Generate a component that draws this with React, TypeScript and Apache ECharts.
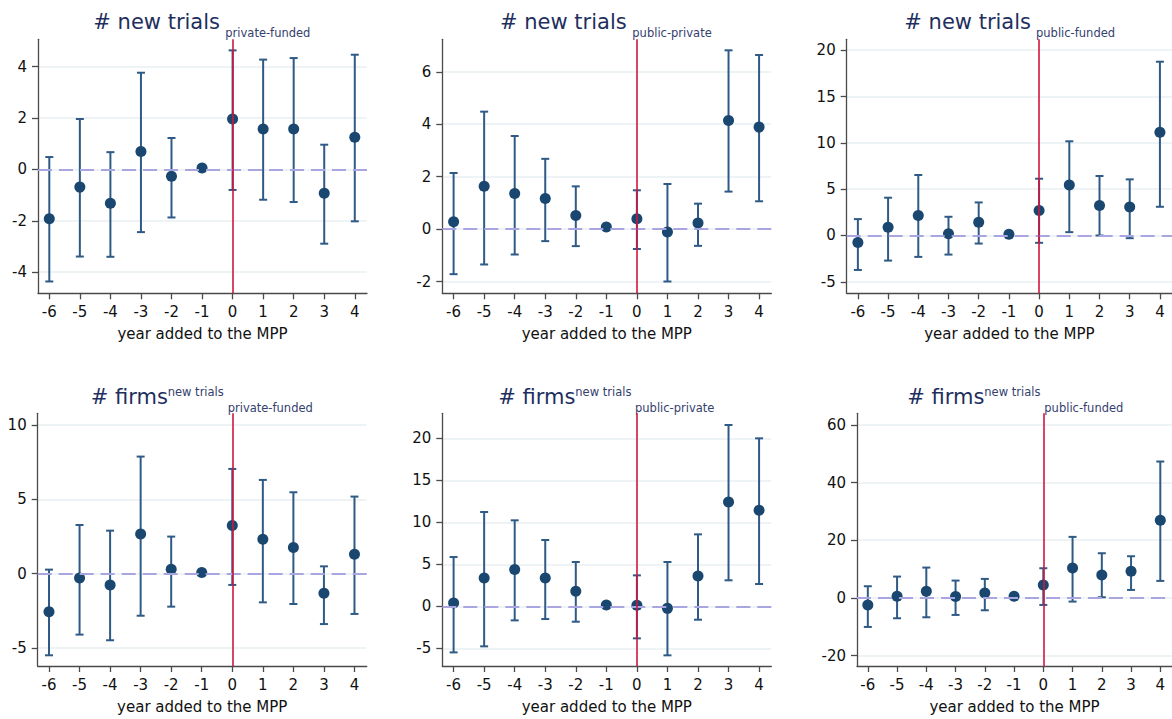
import React, { useEffect, useRef } from "react";
import * as echarts from "echarts";

// ---- data ----
const years = [-6, -5, -4, -3, -2, -1, 0, 1, 2, 3, 4];

// panel 1: # new trials, private-funded
const p1Est = [-1.92, -0.69, -1.32, 0.7, -0.27, 0.05, 1.96, 1.57, 1.57, -0.93, 1.25];
const p1Lo = [-4.36, -3.39, -3.4, -2.44, -1.87, null, -0.8, -1.18, -1.27, -2.89, -2.02];
const p1Hi = [0.48, 1.96, 0.67, 3.76, 1.22, null, 4.63, 4.27, 4.33, 0.96, 4.46];
const p1Ticks = [-4, -2, 0, 2, 4];

// panel 2: # new trials, public-private
const p2Est = [0.28, 1.63, 1.36, 1.17, 0.52, 0.08, 0.39, -0.11, 0.23, 4.14, 3.89];
const p2Lo = [-1.72, -1.35, -0.97, -0.46, -0.65, null, -0.76, -2.0, -0.64, 1.43, 1.06];
const p2Hi = [2.14, 4.48, 3.55, 2.68, 1.63, null, 1.48, 1.72, 0.97, 6.82, 6.64];
const p2Ticks = [-2, 0, 2, 4, 6];

// panel 3: # new trials, public-funded
const p3Est = [-0.76, 0.9, 2.16, 0.18, 1.44, 0.14, 2.71, 5.45, 3.25, 3.07, 11.15];
const p3Lo = [-3.72, -2.71, -2.31, -2.06, -0.87, null, -0.79, 0.36, 0.0, -0.29, 3.1];
const p3Hi = [1.77, 4.08, 6.53, 2.02, 3.57, null, 6.13, 10.17, 6.42, 6.06, 18.76];
const p3Ticks = [-5, 0, 5, 10, 15, 20];

// panel 4: # firms, private-funded
const p4Est = [-2.56, -0.29, -0.76, 2.67, 0.29, 0.07, 3.23, 2.31, 1.75, -1.32, 1.3];
const p4Lo = [-5.49, -4.1, -4.48, -2.83, -2.22, null, -0.76, -1.93, -2.04, -3.39, -2.71];
const p4Hi = [0.27, 3.27, 2.89, 7.87, 2.49, null, 7.04, 6.3, 5.47, 0.49, 5.18];
const p4Ticks = [-5, 0, 5, 10];

// panel 5: # firms, public-private
const p5Est = [0.4, 3.37, 4.4, 3.37, 1.79, 0.16, 0.12, -0.24, 3.61, 12.42, 11.43];
const p5Lo = [-5.48, -4.76, -1.67, -1.51, -1.83, null, -3.81, -5.83, -1.59, 3.1, 2.66];
const p5Hi = [5.87, 11.23, 10.24, 7.9, 5.28, null, 3.69, 5.28, 8.57, 21.59, 20.0];
const p5Ticks = [-5, 0, 5, 10, 15, 20];

// panel 6: # firms, public-funded
const p6Est = [-2.43, 0.58, 2.31, 0.46, 1.73, 0.58, 4.51, 10.4, 7.98, 9.25, 26.94];
const p6Lo = [-10.06, -7.05, -6.71, -5.9, -4.28, null, -2.43, -1.27, 0.23, 2.77, 5.9];
const p6Hi = [4.05, 7.4, 10.52, 6.01, 6.59, null, 10.29, 21.16, 15.49, 14.45, 47.28];
const p6Ticks = [-20, 0, 20, 40, 60];

const xTitle = "year added to the MPP";

// ---- styling ----
const FONT = "DejaVu Sans";
const NAVY = "#1a476f";
const BAR = "#2f5a86";
const TITLE = "#1e2f5e";
const SUB = "#34406e";
const RED = "#d2163e";
const LAV = "#a9a5e0";
const GRIDC = "#e9f1f3";
const AXC = "#4a4a4a";

type Panel = {
  est: number[];
  lo: (number | null)[];
  hi: (number | null)[];
  ticks: number[];
  ymin: number;
  ymax: number;
  left: number;
  top: number;
  width: number;
  height: number;
  main: string;
  sup: string | null;
  sub: string;
  tx: number;
  subx: number;
};

const panels: Panel[] = [
  { est: p1Est, lo: p1Lo, hi: p1Hi, ticks: p1Ticks, ymin: -4.82, ymax: 5.06, left: 38, top: 39.3, width: 329, height: 254, main: "# new trials", sup: null, sub: "private-funded", tx: 93.3, subx: 225.3 },
  { est: p2Est, lo: p2Lo, hi: p2Hi, ticks: p2Ticks, ymin: -2.45, ymax: 7.24, left: 442.3, top: 39.3, width: 329, height: 254, main: "# new trials", sup: null, sub: "public-private", tx: 500, subx: 632.3 },
  { est: p3Est, lo: p3Lo, hi: p3Hi, ticks: p3Ticks, ymin: -6.24, ymax: 21.18, left: 846.7, top: 39.3, width: 329, height: 254, main: "# new trials", sup: null, sub: "public-funded", tx: 904.3, subx: 1036 },
  { est: p4Est, lo: p4Lo, hi: p4Hi, ticks: p4Ticks, ymin: -6.21, ymax: 10.78, left: 37.7, top: 413.3, width: 329, height: 252.7, main: "# firms", sup: "new trials", sub: "private-funded", tx: 90.7, subx: 227.7 },
  { est: p5Est, lo: p5Lo, hi: p5Hi, ticks: p5Ticks, ymin: -7.1, ymax: 22.98, left: 442.3, top: 413.3, width: 329, height: 252.7, main: "# firms", sup: "new trials", sub: "public-private", tx: 498.3, subx: 635 },
  { est: p6Est, lo: p6Lo, hi: p6Hi, ticks: p6Ticks, ymin: -23.6, ymax: 64.0, left: 857, top: 413.3, width: 317.7, height: 252.7, main: "# firms", sup: "new trials", sub: "public-funded", tx: 907.3, subx: 1044.3 },
];

function buildOption() {
  const grid: any[] = [];
  const xAxis: any[] = [];
  const yAxis: any[] = [];
  const series: any[] = [];
  const graphic: any[] = [];

  panels.forEach((p, i) => {
    grid.push({ left: p.left, top: p.top, width: p.width, height: p.height, containLabel: false });
    xAxis.push({
      gridIndex: i,
      type: "value",
      min: -6.37,
      max: 4.4,
      name: xTitle,
      nameLocation: "middle",
      nameGap: 33,
      nameTextStyle: { fontFamily: FONT, fontSize: 15, color: "#111" },
      axisLine: { show: true, onZero: false, lineStyle: { color: AXC, width: 1.3 } },
      axisTick: { show: true, length: 6, customValues: years, lineStyle: { color: AXC, width: 1.3 } },
      axisLabel: { customValues: years, fontFamily: FONT, fontSize: 15, color: "#111", margin: 11 },
      splitLine: { show: false },
    });
    yAxis.push({
      gridIndex: i,
      type: "value",
      min: p.ymin,
      max: p.ymax,
      axisLine: { show: true, onZero: false, lineStyle: { color: AXC, width: 1.3 } },
      axisTick: { show: true, length: 6, customValues: p.ticks, lineStyle: { color: AXC, width: 1.3 } },
      axisLabel: { customValues: p.ticks, fontFamily: FONT, fontSize: 15, color: "#111", margin: 11 },
      splitLine: { show: true, lineStyle: { color: GRIDC, width: 1.5 } },
    });

    // reference lines
    series.push({
      type: "line",
      xAxisIndex: i,
      yAxisIndex: i,
      data: [],
      silent: true,
      z: 1,
      markLine: {
        silent: true,
        symbol: "none",
        animation: false,
        label: { show: false },
        data: [
          { yAxis: 0, lineStyle: { color: LAV, width: 2, type: [14, 7] } },
          { xAxis: 0, lineStyle: { color: RED, width: 1.6, type: "solid" } },
        ],
      },
    });

    const ci = years
      .map((y, k) => [y, p.lo[k], p.hi[k]])
      .filter((d) => d[1] !== null && d[2] !== null);

    series.push({
      type: "custom",
      xAxisIndex: i,
      yAxisIndex: i,
      z: 3,
      silent: true,
      encode: { x: 0, y: [1, 2] },
      data: ci,
      renderItem: (params: any, api: any) => {
        const x = api.value(0);
        const lo = api.value(1);
        const hi = api.value(2);
        const a = api.coord([x, lo]);
        const b = api.coord([x, hi]);
        const w = 4;
        const style = { stroke: BAR, lineWidth: 2 };
        return {
          type: "group",
          children: [
            { type: "line", shape: { x1: a[0], y1: a[1], x2: b[0], y2: b[1] }, style },
            { type: "line", shape: { x1: a[0] - w, y1: a[1], x2: a[0] + w, y2: a[1] }, style },
            { type: "line", shape: { x1: b[0] - w, y1: b[1], x2: b[0] + w, y2: b[1] }, style },
          ],
        };
      },
    });

    series.push({
      type: "scatter",
      xAxisIndex: i,
      yAxisIndex: i,
      z: 4,
      symbol: "circle",
      symbolSize: 11,
      itemStyle: { color: NAVY, opacity: 1 },
      data: years.map((y, k) => [y, p.est[k]]),
    });

    // titles
    const isTop = p.sup === null;
    if (isTop) {
      graphic.push({
        type: "text",
        left: p.tx,
        top: 11.5,
        style: { text: p.main, fontFamily: FONT, fontSize: 21, fill: TITLE },
      });
      graphic.push({
        type: "text",
        left: p.subx,
        top: 26.5,
        style: { text: p.sub, fontFamily: FONT, fontSize: 11.5, fill: SUB },
      });
    } else {
      graphic.push({
        type: "text",
        left: p.tx,
        top: 386.5,
        style: { text: p.main, fontFamily: FONT, fontSize: 21, fill: TITLE },
      });
      graphic.push({
        type: "text",
        left: p.tx + 77,
        top: 385.5,
        style: { text: p.sup, fontFamily: FONT, fontSize: 11.5, fill: SUB },
      });
      graphic.push({
        type: "text",
        left: p.subx,
        top: 401.5,
        style: { text: p.sub, fontFamily: FONT, fontSize: 11.5, fill: SUB },
      });
    }
  });

  return {
    animation: false,
    backgroundColor: "#ffffff",
    grid,
    xAxis,
    yAxis,
    series,
    graphic,
  };
}

export default function App() {
  const ref = useRef<HTMLDivElement>(null);
  useEffect(() => {
    if (!ref.current) return;
    const chart = echarts.init(ref.current, null, { renderer: "svg" });
    chart.setOption(buildOption() as any);
    return () => chart.dispose();
  }, []);
  return (
    <div
      ref={ref}
      style={{ position: "absolute", left: 0, top: 0, width: 1172, height: 719, background: "#fff" }}
    />
  );
}
